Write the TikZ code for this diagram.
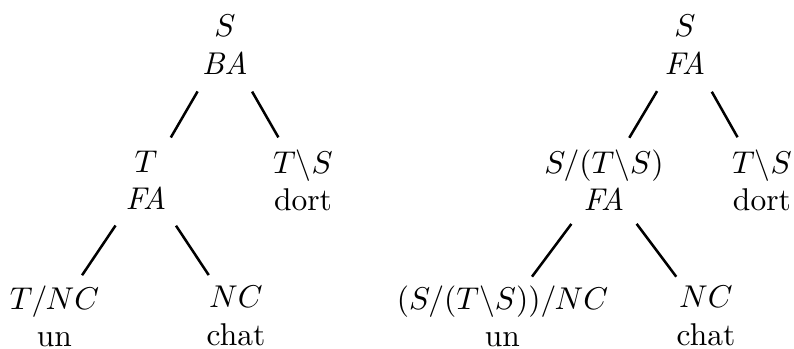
\documentclass[tikz,border=0pt]{standalone}
\usepackage{amsmath}

\tikzset{
    cat/.style={align=center},
    branch/.style={thick, shorten <=17.3pt, shorten >=15.7pt}
}

\begin{document}
\begin{tikzpicture}
    \useasboundingbox (0,0) rectangle (8.862,3.895);

    % Left tree: backward application at the root
    \node[cat] (lroot) at (2.511,3.40) {$S$\\\textit{BA}};
    \node[cat] (lT) at (1.629,1.883) {$T$\\\textit{FA}};
    \node[cat] (lTS) at (3.382,1.883) {$T\backslash S$\\dort};
    \node[cat] (lTNC) at (0.608,0.365) {$T/NC$\\un};
    \node[cat] (lNC) at (2.634,0.365) {$NC$\\chat};

    \draw[branch] (lroot.center) -- (lT.center);
    \draw[branch] (lroot.center) -- (lTS.center);
    \draw[branch] (lT.center) -- (lTNC.center);
    \draw[branch] (lT.center) -- (lNC.center);

    % Right tree: type-raised subject, forward application
    \node[cat] (rroot) at (7.645,3.40) {$S$\\\textit{FA}};
    \node[cat] (rS) at (6.741,1.883) {$S/(T\backslash S)$\\\textit{FA}};
    \node[cat] (rTS) at (8.504,1.883) {$T\backslash S$\\dort};
    \node[cat] (rSNC) at (5.608,0.365) {$(S/(T\backslash S))/NC$\\un};
    \node[cat] (rNC) at (7.879,0.365) {$NC$\\chat};

    \draw[branch] (rroot.center) -- (rS.center);
    \draw[branch] (rroot.center) -- (rTS.center);
    \draw[branch] (rS.center) -- (rSNC.center);
    \draw[branch] (rS.center) -- (rNC.center);
\end{tikzpicture}
\end{document}
